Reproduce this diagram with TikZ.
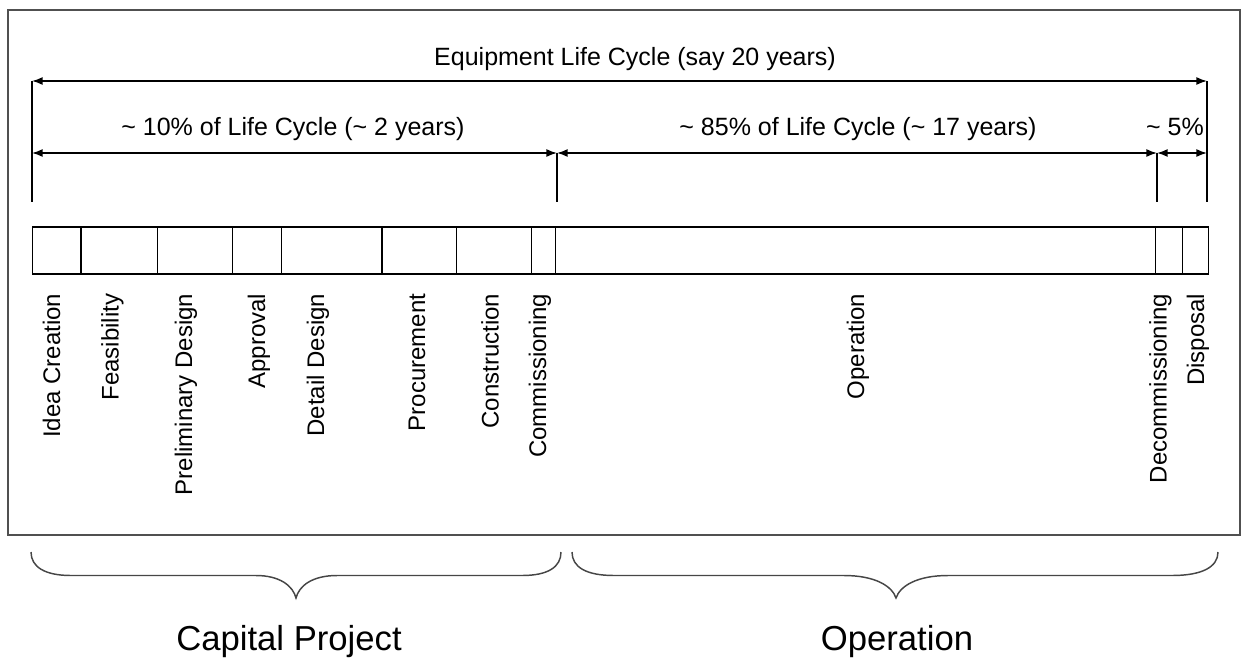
\documentclass[tikz,border=0pt]{standalone}
\usepackage{fontspec}
\setmainfont{Liberation Sans}
\usetikzlibrary{arrows.meta}

\tikzset{every picture/.style={line width=1.1pt}}
\tikzset{dimarrow/.style={{Latex[length=8pt,width=6pt]}-{Latex[length=8pt,width=6pt]}}}
\newcommand{\phasefont}{\fontsize{18}{21}\selectfont}
\newcommand{\spanfont}{\fontsize{18.75}{22}\selectfont}
\newcommand{\groupfont}{\fontsize{26}{30}\selectfont}

\begin{document}
\begin{tikzpicture}[x=0.75pt,y=0.75pt,yscale=-1,xscale=1]
\useasboundingbox (0,0) rectangle (1241,657); %set diagram to the reference size

%Shape: Rectangle [frame]
\draw [color={rgb, 255:red, 80; green, 80; blue, 80 }  ,draw opacity=1 ][line width=1.5pt]  (8,10) -- (1239.5,10) -- (1239.5,535) -- (8,535) -- cycle ;

%Coordinates for the span arrows
\coordinate (lifeL) at (32,81);
\coordinate (lifeR) at (1207,81);
\coordinate (capL) at (32,153);
\coordinate (capR) at (557,153);
\coordinate (opR) at (1157,153);
\coordinate (endR) at (1207,153);

%Straight Lines [ticks]
\draw    (lifeL) -- (32,202) ;
\draw    (lifeR) -- (1207,202) ;
\draw    (capR) -- (557,202) ;
\draw    (opR) -- (1157,202) ;

%Straight Lines [span arrows]
\draw [dimarrow]   (lifeL) -- (lifeR) ;
\draw [dimarrow]   (capL) -- (capR) ;
\draw [dimarrow]   (capR) -- (opR) ;
\draw [dimarrow]   (opR) -- (endR) ;

%Shape: Rectangle [bar]
\draw    (32.5,227) -- (1208.5,227) -- (1208.5,274) -- (32.5,274) -- cycle ;
%Straight Lines [bar dividers]
\draw    (81,227) -- (81,274) ;
\draw    (157.5,227) -- (157.5,274) ;
\draw    (232.5,227) -- (232.5,274) ;
\draw    (281.5,227) -- (281.5,274) ;
\draw    (382,227) -- (382,274) ;
\draw    (456.5,227) -- (456.5,274) ;
\draw    (531.5,227) -- (531.5,274) ;
\draw    (555.5,227) -- (555.5,274) ;
\draw    (1155.5,227) -- (1155.5,274) ;
\draw    (1182.5,227) -- (1182.5,274) ;

%Shape: Brace [capital project]
\draw [color={rgb, 255:red, 70; green, 70; blue, 70 }  ,draw opacity=1 ]  (561,552) .. controls (561,567) and (548,575.5) .. (522,575.5) -- (337,575.5) .. controls (312,575.5) and (299,586) .. (296,598) .. controls (293,586) and (280,575.5) .. (256,575.5) -- (71,575.5) .. controls (45,575.5) and (31,567) .. (31,552) ;
%Shape: Brace [operation]
\draw [color={rgb, 255:red, 70; green, 70; blue, 70 }  ,draw opacity=1 ]  (572,552) .. controls (572,567) and (586,575.5) .. (614,575.5) -- (844,575.5) .. controls (875,575.5) and (892,586) .. (896,598) .. controls (900,586) and (917,575.5) .. (948,575.5) -- (1172,575.5) .. controls (1202,575.5) and (1218,567) .. (1218,552) ;

% Text Node
\draw (635,65) node [anchor=base][inner sep=0.75pt]   [align=left] (lifetext) {\spanfont Equipment Life Cycle (say 20 years)};
% Text Node
\draw (293,135) node [anchor=base][inner sep=0.75pt]   [align=left] (captext) {\spanfont \textasciitilde{} 10\% of Life Cycle (\textasciitilde{} 2 years)};
% Text Node
\draw (858,135) node [anchor=base][inner sep=0.75pt]   [align=left] (optext) {\spanfont \textasciitilde{} 85\% of Life Cycle (\textasciitilde{} 17 years)};
% Text Node
\draw (1175,135) node [anchor=base][inner sep=0.75pt]   [align=left] (endtext) {\spanfont \textasciitilde{} 5\%};

% Text Node
\draw (51.5,293) node [anchor=east][inner sep=0pt] [rotate=90]  (idea) {\phasefont Idea Creation};
% Text Node
\draw (112.5,293) node [anchor=east][inner sep=0pt] [rotate=90]  (feas) {\phasefont Feasibility};
% Text Node
\draw (186,293) node [anchor=east][inner sep=0pt] [rotate=90]  (prelim) {\phasefont Preliminary Design};
% Text Node
\draw (259,293) node [anchor=east][inner sep=0pt] [rotate=90]  (approval) {\phasefont Approval};
% Text Node
\draw (318,293) node [anchor=east][inner sep=0pt] [rotate=90]  (detail) {\phasefont Detail Design};
% Text Node
\draw (417,293) node [anchor=east][inner sep=0pt] [rotate=90]  (procure) {\phasefont Procurement};
% Text Node
\draw (490,293) node [anchor=east][inner sep=0pt] [rotate=90]  (construct) {\phasefont Construction};
% Text Node
\draw (540,293) node [anchor=east][inner sep=0pt] [rotate=90]  (commission) {\phasefont Commissioning};
% Text Node
\draw (858,293) node [anchor=east][inner sep=0pt] [rotate=90]  (operate) {\phasefont Operation};
% Text Node
\draw (1160.5,293) node [anchor=east][inner sep=0pt] [rotate=90]  (decommission) {\phasefont Decommissioning};
% Text Node
\draw (1198,293) node [anchor=east][inner sep=0pt] [rotate=90]  (disposal) {\phasefont Disposal};

% Text Node
\draw (289,650) node [anchor=base][inner sep=0.75pt]   [align=left] (capital) {\groupfont Capital Project};
% Text Node
\draw (897,650) node [anchor=base][inner sep=0.75pt]   [align=left] (operation) {\groupfont Operation};

\end{tikzpicture}
\end{document}
